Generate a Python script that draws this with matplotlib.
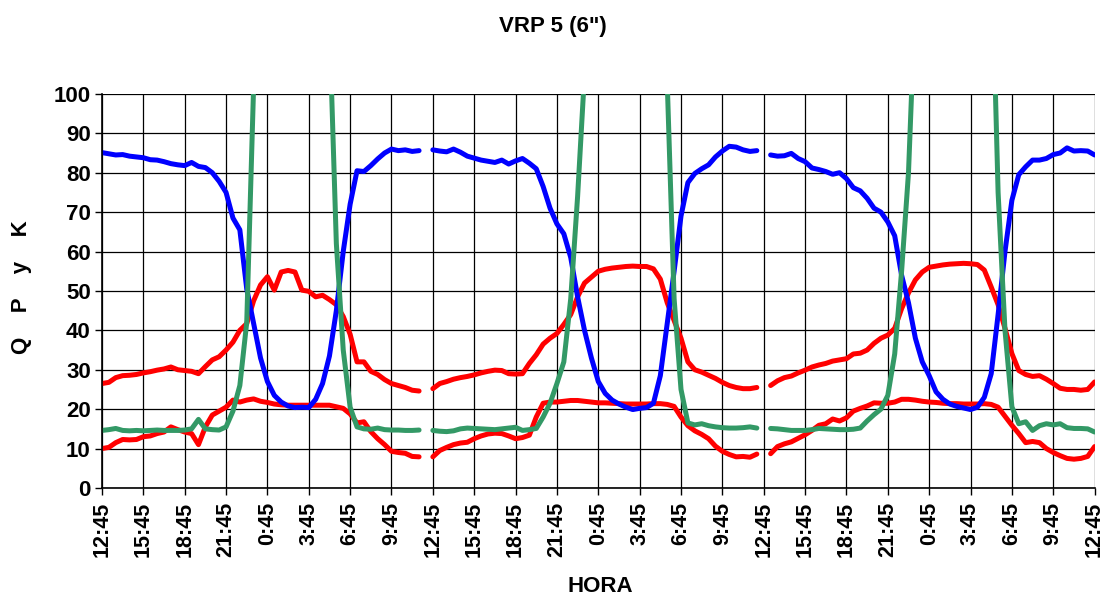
import numpy as np
import matplotlib
matplotlib.use('Agg')
import matplotlib.pyplot as plt

nan = np.nan

# time in hours since 12:45 of day 1, every 30 minutes
hours = np.arange(0, 72.5, 0.5)

tick_labels = ['12:45', '15:45', '18:45', '21:45', '0:45', '3:45', '6:45', '9:45'] * 3 + ['12:45']

# blue curve
serie_azul = [
    # day 1
    85.1, 84.8, 84.5, 84.6, 84.2, 84.0, 83.8, 83.3, 83.2, 82.8, 82.3, 82.0,
    81.8, 82.6, 81.6, 81.3, 80.0, 77.8, 75.0, 68.5, 65.5, 50.5, 41.7, 33.0,
    27.0, 23.5, 21.8, 20.8, 20.4, 20.5, 20.4, 22.5, 26.5, 33.5, 45.0, 60.0,
    72.0, 80.5, 80.3, 81.8, 83.5, 85.0, 86.0, 85.6, 85.8, 85.4, 85.6, nan,
    # day 2
    85.8, 85.5, 85.3, 86.0, 85.2, 84.2, 83.7, 83.2, 82.9, 82.6, 83.2, 82.2,
    83.0, 83.6, 82.4, 81.0, 76.5, 71.0, 67.0, 64.5, 58.5, 48.5, 40.0, 33.0,
    27.0, 24.0, 22.3, 21.3, 20.5, 19.9, 20.2, 20.4, 21.5, 28.5, 41.7, 55.0,
    69.0, 77.5, 79.8, 81.0, 82.0, 84.0, 85.5, 86.7, 86.5, 85.8, 85.4, 85.6,
    # day 3
    nan, 84.5, 84.2, 84.3, 84.9, 83.6, 82.8, 81.2, 80.8, 80.3, 79.6, 80.0,
    78.5, 76.2, 75.4, 73.5, 71.0, 70.0, 67.5, 64.0, 54.0, 47.0, 38.0, 32.0,
    28.5, 24.4, 22.5, 21.3, 20.7, 20.3, 19.9, 20.5, 23.0, 29.0, 44.0, 60.0,
    73.0, 79.5, 81.5, 83.2, 83.2, 83.6, 84.6, 85.0, 86.3, 85.5, 85.6, 85.5,
    84.5,
]

# upper red curve
serie_roja_alta = [
    # day 1
    26.5, 26.8, 28.0, 28.5, 28.6, 28.8, 29.2, 29.5, 29.9, 30.2, 30.7, 30.0,
    29.8, 29.6, 29.0, 30.8, 32.5, 33.3, 35.0, 37.0, 40.0, 41.7, 47.5, 51.5,
    53.6, 50.2, 54.8, 55.2, 54.8, 50.2, 49.9, 48.5, 48.9, 47.8, 46.5, 43.5,
    39.0, 32.0, 32.0, 29.6, 28.8, 27.5, 26.5, 26.0, 25.5, 24.8, 24.6, nan,
    # day 2
    25.2, 26.5, 27.0, 27.6, 28.0, 28.3, 28.7, 29.2, 29.6, 29.9, 29.8, 29.0,
    28.9, 29.0, 31.6, 33.8, 36.5, 38.0, 39.2, 41.5, 44.0, 48.5, 52.0, 53.5,
    55.0, 55.5, 55.8, 56.0, 56.2, 56.3, 56.2, 56.2, 55.6, 53.0, 47.0, 42.5,
    38.0, 32.0, 30.0, 29.4, 28.6, 27.8, 26.8, 26.0, 25.5, 25.2, 25.2, 25.5,
    # day 3
    nan, 26.0, 27.2, 28.0, 28.4, 29.2, 29.9, 30.7, 31.2, 31.6, 32.2, 32.5,
    32.8, 34.0, 34.2, 35.0, 36.7, 38.0, 38.8, 40.5, 45.5, 49.5, 52.8, 54.8,
    56.0, 56.3, 56.6, 56.8, 56.9, 57.0, 56.9, 56.7, 55.3, 51.0, 46.5, 40.5,
    34.1, 29.8, 28.8, 28.3, 28.5, 27.6, 26.5, 25.3, 25.0, 25.0, 24.8, 25.0,
    26.9,
]

# lower red curve
serie_roja_baja = [
    # day 1
    10.0, 10.3, 11.5, 12.3, 12.2, 12.3, 13.0, 13.2, 13.8, 14.2, 15.5, 14.8,
    14.2, 13.8, 11.0, 15.5, 18.5, 19.5, 20.5, 22.3, 21.8, 22.3, 22.6, 22.0,
    21.7, 21.3, 21.1, 21.0, 21.0, 21.0, 21.0, 21.0, 21.0, 21.0, 20.6, 20.2,
    18.8, 16.5, 16.8, 14.3, 12.5, 11.0, 9.3, 9.0, 8.8, 8.0, 7.9, nan,
    # day 2
    7.9, 9.5, 10.3, 11.0, 11.4, 11.6, 12.5, 13.2, 13.7, 13.9, 13.8, 13.2,
    12.5, 12.8, 13.4, 18.0, 21.5, 21.8, 21.8, 22.0, 22.2, 22.2, 22.0, 21.8,
    21.6, 21.6, 21.5, 21.4, 21.3, 21.3, 21.3, 21.3, 21.4, 21.4, 21.2, 20.7,
    18.0, 15.8, 14.5, 13.6, 12.5, 10.6, 9.3, 8.5, 7.9, 8.0, 7.8, 8.6,
    # day 3
    nan, 8.7, 10.5, 11.2, 11.7, 12.6, 13.5, 14.6, 15.9, 16.3, 17.5, 17.0,
    17.8, 19.5, 20.2, 20.8, 21.6, 21.5, 21.5, 21.8, 22.5, 22.5, 22.3, 22.0,
    21.8, 21.7, 21.5, 21.4, 21.4, 21.3, 21.3, 21.3, 21.4, 21.2, 20.5, 18.2,
    15.9, 13.8, 11.5, 11.8, 11.5, 10.0, 9.0, 8.2, 7.5, 7.3, 7.5, 8.0,
    10.5,
]

# green curve (goes far above the axis at night)
serie_verde = [
    # day 1
    14.6, 14.8, 15.1, 14.6, 14.5, 14.6, 14.5, 14.6, 14.7, 14.6, 14.6, 14.6,
    14.7, 15.0, 17.4, 15.0, 14.8, 14.7, 15.5, 19.5, 26.0, 42.0, 102.0, 140.0,
    140.0, 140.0, 140.0, 140.0, 140.0, 140.0, 140.0, 140.0, 140.0, 118.0, 62.0, 35.0,
    20.5, 15.5, 15.0, 14.9, 15.2, 14.8, 14.7, 14.7, 14.6, 14.6, 14.7, nan,
    # day 2
    14.6, 14.4, 14.3, 14.5, 15.0, 15.2, 15.1, 15.0, 14.9, 14.8, 15.0, 15.2,
    15.4, 14.6, 14.8, 15.1, 18.0, 21.5, 26.5, 32.0, 48.0, 74.0, 105.0, 140.0,
    140.0, 140.0, 140.0, 140.0, 140.0, 140.0, 140.0, 140.0, 140.0, 140.0, 103.0, 48.0,
    25.0, 16.5, 16.0, 16.3, 15.8, 15.5, 15.3, 15.2, 15.2, 15.3, 15.5, 15.2,
    # day 3
    nan, 15.1, 15.0, 14.8, 14.6, 14.6, 14.6, 14.8, 15.1, 15.0, 14.9, 14.8,
    14.8, 14.9, 15.2, 17.0, 18.6, 20.0, 23.5, 34.0, 55.0, 80.0, 125.0, 140.0,
    140.0, 140.0, 140.0, 140.0, 140.0, 140.0, 140.0, 140.0, 140.0, 140.0, 75.0, 40.0,
    20.6, 16.3, 16.8, 14.6, 15.8, 16.3, 16.0, 16.3, 15.3, 15.1, 15.1, 15.0,
    14.2,
]

plt.rcParams['font.family'] = ['Liberation Sans', 'DejaVu Sans']
plt.rcParams['font.weight'] = 'bold'

fig = plt.figure(figsize=(11.06, 5.98), dpi=100)
ax = fig.add_axes([0.0922, 0.184, 0.8975, 0.659])

# red first, green last (on top), like the original
ax.plot(hours, serie_roja_baja, color='#FF0000', lw=3.6, solid_capstyle='round')
ax.plot(hours, serie_roja_alta, color='#FF0000', lw=3.6, solid_capstyle='round')
ax.plot(hours, serie_azul, color='#0000FF', lw=3.6, solid_capstyle='round')
ax.plot(hours, serie_verde, color='#339966', lw=3.6, solid_capstyle='round')

ax.set_xlim(0, 72)
ax.set_ylim(0, 100)
ax.set_xticks(np.arange(0, 73, 3))
ax.set_xticklabels(tick_labels, rotation=90, fontsize=15.5, fontweight='bold')
ax.set_yticks(np.arange(0, 101, 10))
ax.set_yticklabels([str(v) for v in range(0, 101, 10)], fontsize=16, fontweight='bold')
ax.tick_params(axis='both', direction='out', length=5, width=1, color='black')
ax.tick_params(axis='x', pad=5)
ax.tick_params(axis='y', pad=3)

ax.grid(True, color='black', lw=0.9)
ax.set_axisbelow(True)
for s in ['top', 'right']:
    ax.spines[s].set_visible(False)
ax.spines['left'].set_linewidth(1.2)
ax.spines['bottom'].set_linewidth(1.2)

fig.text(0.5, 0.955, 'VRP 5 (6")', ha='center', va='center', fontsize=16, fontweight='bold')
fig.text(0.543, 0.02, 'HORA', ha='center', va='center', fontsize=16, fontweight='bold')
fig.text(0.019, 0.52, 'Q    P    y    K', ha='center', va='center', rotation=90,
         fontsize=16, fontweight='bold')

fig.savefig('out.png', dpi=100)
